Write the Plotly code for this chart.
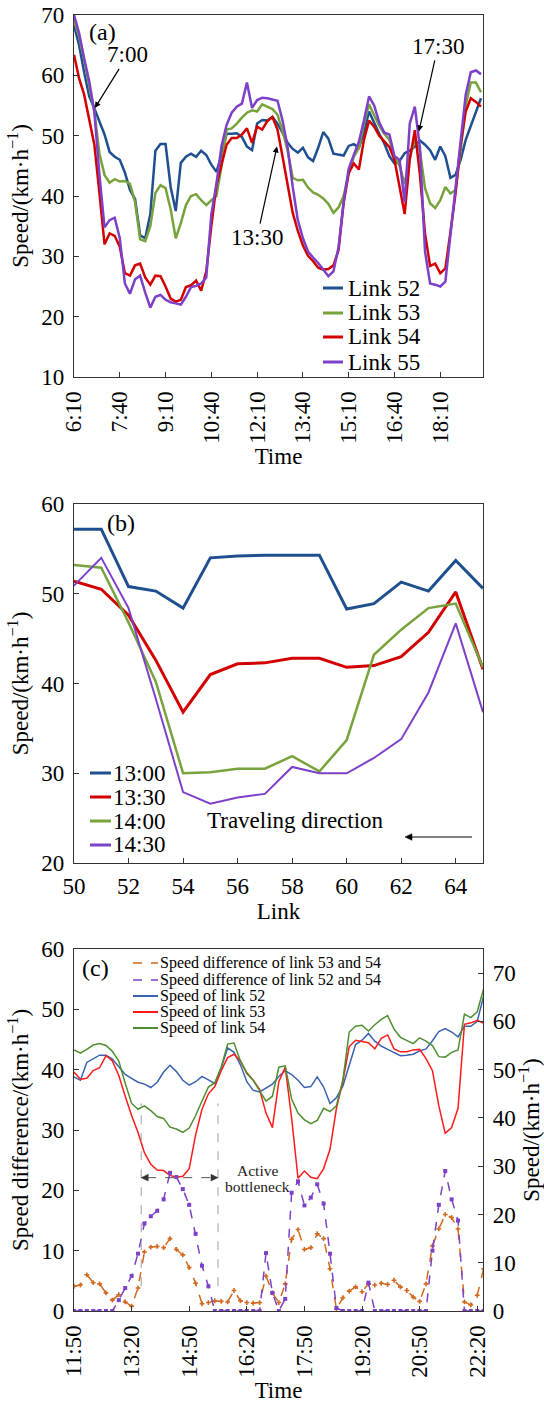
import plotly.graph_objects as go

W, H = 544, 1403
FONT = "Liberation Serif"

# ---------------- Panel (a): link speeds over the day ----------------
time_a = ["06:10","06:20","06:30","06:40","06:50",
          "07:00","07:10","07:20","07:30","07:40","07:50",
          "08:00","08:10","08:20","08:30","08:40","08:50",
          "09:00","09:10","09:20","09:30","09:40","09:50",
          "10:00","10:10","10:20","10:30","10:40","10:50",
          "11:00","11:10","11:20","11:30","11:40","11:50",
          "12:00","12:10","12:20","12:30","12:40","12:50",
          "13:00","13:10","13:20","13:30","13:40","13:50",
          "14:00","14:10","14:20","14:30","14:40","14:50",
          "15:00","15:10","15:20","15:30","15:40","15:50",
          "16:00","16:10","16:20","16:30","16:40","16:50",
          "17:00","17:10","17:20","17:30","17:40","17:50",
          "18:00","18:10","18:20","18:30","18:40","18:50",
          "19:00","19:10","19:20","19:30"]
link52_a = [68.3, 65.0, 60.5, 56.5, 54.5,
            52.5, 50.2, 47.3, 46.5, 46.0, 43.9,
            41.0, 39.5, 33.5, 33.0, 37.0, 47.5,
            48.6, 48.6, 41.5, 37.5, 45.5, 46.5,
            47.0, 46.5, 47.5, 46.8, 45.2, 44.0,
            46.8, 50.3, 50.3, 50.4, 49.8, 48.2,
            47.6, 52.0, 52.6, 52.5, 53.1, 52.0,
            50.5, 48.8, 47.8, 47.2, 48.0, 46.4,
            45.8, 48.0, 50.6, 49.5, 47.0, 46.8,
            46.7, 48.3, 48.6, 48.0, 50.5, 54.0,
            52.0, 50.3, 48.7, 46.6, 45.4, 45.8,
            47.1, 47.5, 48.2, 49.2, 48.5, 47.6,
            46.0, 48.2, 46.6, 43.0, 43.5, 46.0,
            49.3, 51.5, 54.0, 56.2]
link53_a = [69.2, 66.5, 62.5, 58.0, 54.0,
            47.0, 43.5, 42.2, 42.8, 42.4, 42.5,
            42.0, 39.0, 32.8, 32.5, 35.0, 40.5,
            41.8, 41.3, 37.8, 33.0, 35.5, 38.5,
            40.0, 40.3, 39.3, 38.5, 39.3, 40.0,
            45.0, 51.0, 51.2, 52.0, 53.0, 53.8,
            54.2, 54.0, 55.2, 54.8, 54.4, 53.5,
            50.8, 47.5, 43.0, 42.6, 42.7, 41.4,
            40.6, 40.2, 39.6, 38.7, 37.2, 38.1,
            40.0, 43.8, 46.5, 48.0, 52.0, 55.2,
            53.5, 51.6, 50.3, 49.3, 46.5, 45.0,
            42.0, 46.5, 49.2, 47.5, 41.3, 38.8,
            38.0, 39.3, 41.5, 40.4, 41.0, 47.5,
            55.0, 58.8, 58.8, 57.2]
link54_a = [63.4, 59.5, 56.8, 52.8, 48.5,
            40.5, 32.0, 33.8, 33.4, 31.6, 27.2,
            26.8, 28.5, 28.8, 26.5, 25.3, 26.8,
            26.7, 25.0, 23.0, 22.5, 22.8, 24.9,
            25.2, 26.0, 24.3, 27.5, 35.0, 41.8,
            45.2, 48.5, 49.6, 49.6, 50.2, 51.2,
            48.8, 51.5, 51.0, 52.4, 53.1, 51.0,
            46.5, 42.0, 37.2, 34.2, 31.8, 30.1,
            29.2, 28.1, 27.8, 27.9, 28.5, 31.0,
            38.8, 43.8, 45.4, 44.4, 49.3, 52.5,
            51.5, 50.0, 49.0, 48.1, 46.0, 41.5,
            37.0, 46.0, 50.9, 43.5, 33.8, 28.4,
            28.8, 27.2, 28.0, 34.0, 40.4, 48.5,
            54.0, 56.2, 55.6, 54.8]
link55_a = [70.0, 67.0, 62.8, 59.0, 54.0,
            43.5, 34.8, 36.0, 36.4, 33.0, 25.5,
            23.8, 26.2, 26.8, 24.0, 21.5, 23.3,
            23.6, 22.8, 22.4, 22.2, 22.0, 23.3,
            24.9, 25.1, 25.5, 26.5, 37.0, 42.0,
            48.3, 51.8, 53.8, 54.8, 55.3, 58.8,
            54.6, 55.9, 56.3, 56.2, 56.0, 55.8,
            52.5, 48.0, 41.5, 36.0, 33.0, 30.8,
            29.8, 28.9, 27.8, 26.7, 27.5, 31.5,
            39.0, 44.5, 46.8, 49.0, 52.5, 56.5,
            55.0, 52.2, 50.5, 50.2, 46.6, 46.0,
            39.0, 52.0, 54.8, 48.0, 30.8, 25.5,
            25.3, 25.0, 25.8, 33.5, 42.0, 50.0,
            56.8, 60.5, 60.8, 60.2]
names_a = ["Link 52", "Link 53", "Link 54", "Link 55"]
colors_a = ["#1F4F8F", "#78A33C", "#D20000", "#7D40C8"]
# arrow call-outs: label, tip time, tip speed
callouts_a = [("7:00", "06:51", 54.6), ("13:30", "12:49", 48.2), ("17:30", "17:28", 50.7)]

# ---------------- Panel (b): speed profile along links ----------------
links_b = [50, 51, 52, 53, 54, 55, 56, 57, 58, 59, 60, 61, 62, 63, 64, 65]
speed_1300 = [57.2, 57.2, 50.8, 50.3, 48.4, 54.0, 54.2, 54.3, 54.3, 54.3, 48.3, 48.9, 51.3, 50.3, 53.7, 50.6]
speed_1330 = [51.4, 50.5, 47.6, 42.6, 36.8, 41.0, 42.2, 42.3, 42.8, 42.8, 41.8, 42.0, 43.0, 45.7, 50.2, 41.6]
speed_1400 = [53.2, 52.9, 46.8, 40.2, 30.0, 30.1, 30.5, 30.5, 31.9, 30.2, 33.7, 43.2, 46.0, 48.4, 48.9, 41.8]
speed_1430 = [50.9, 54.0, 48.4, 38.3, 27.9, 26.6, 27.3, 27.7, 30.7, 30.0, 30.0, 31.7, 33.8, 39.0, 46.7, 36.8]
names_b = ["13:00", "13:30", "14:00", "14:30"]
colors_b = ["#1F4F8F", "#D20000", "#78A33C", "#7D40C8"]
widths_b = [3.0, 3.0, 2.5, 2.0]

# ---------------- Panel (c): speeds and speed differences ----------------
time_c = ["11:50",
          "12:00","12:10","12:20","12:30","12:40","12:50",
          "13:00","13:10","13:20","13:30","13:40","13:50",
          "14:00","14:10","14:20","14:30","14:40","14:50",
          "15:00","15:10","15:20","15:30","15:40","15:50",
          "16:00","16:10","16:20","16:30","16:40","16:50",
          "17:00","17:10","17:20","17:30","17:40","17:50",
          "18:00","18:10","18:20","18:30","18:40","18:50",
          "19:00","19:10","19:20","19:30","19:40","19:50",
          "20:00","20:10","20:20","20:30","20:40","20:50",
          "21:00","21:10","21:20","21:30","21:40","21:50",
          "22:00","22:10","22:20","22:30"]
speed52_c = [48.5,
             47.8, 51.5, 52.3, 53.0, 53.0, 52.2,
             50.6, 49.0, 48.2, 47.4, 47.0, 46.3,
             47.4, 49.5, 50.9, 49.6, 47.8, 46.8,
             47.5, 48.6, 47.9, 47.1, 50.4, 54.5,
             53.6, 51.0, 47.5, 45.7, 45.4, 46.2,
             47.0, 48.6, 49.8, 49.0, 47.8, 46.3,
             46.5, 48.5, 46.4, 43.0, 44.2, 46.6,
             51.0, 55.2, 56.1, 57.5, 55.9, 54.9,
             54.2, 53.6, 52.9, 53.0, 53.2, 53.9,
             54.3, 56.0, 57.9, 58.5, 57.8, 56.8,
             59.0, 59.0, 60.0, 65.3]
speed53_c = [49.5,
             48.0, 48.2, 49.8, 50.4, 52.9, 51.8,
             48.8, 44.5, 40.5, 37.0, 32.8, 30.4,
             29.2, 29.1, 28.1, 27.7, 27.9, 29.5,
             36.5, 41.8, 45.0, 46.5, 49.8, 52.5,
             53.2, 51.8, 49.2, 47.8, 45.9, 41.0,
             38.0, 47.5, 50.5, 40.0, 27.5, 29.0,
             27.7, 27.4, 29.5, 33.5, 42.0, 47.6,
             54.8, 56.1, 55.8, 55.6, 54.3, 56.5,
             57.2, 54.3, 53.7, 53.7, 54.1, 54.2,
             52.3, 49.8, 42.5, 36.8, 38.0, 42.0,
             59.4, 59.7, 60.2, 59.6]
speed54_c = [54.1,
             53.4, 54.2, 55.1, 55.4, 55.0, 53.8,
             51.8, 47.2, 43.0, 41.8, 42.5, 41.5,
             40.3, 39.9, 38.1, 37.7, 37.0, 37.9,
             40.5, 43.5, 46.4, 47.3, 50.5, 55.3,
             55.5, 51.8, 49.4, 47.8, 45.6, 43.5,
             44.5, 50.5, 50.8, 43.9, 41.0, 39.6,
             38.8, 39.5, 42.0, 41.3, 42.5, 47.8,
             57.8, 59.0, 59.2, 58.0, 59.3, 60.4,
             61.2, 58.4, 56.7, 56.1, 55.4, 56.6,
             55.9, 55.0, 52.7, 52.6, 53.6, 54.1,
             61.5, 60.8, 62.0, 66.8]
diff53_54 = [4.1,
             4.3, 6.0, 4.7, 4.5, 3.0, 1.8,
             2.7, 1.5, 0.8, 3.8, 9.8, 10.6,
             10.7, 10.5, 12.0, 10.2, 9.3, 7.2,
             4.6, 1.2, 1.4, 1.7, 1.6, 1.5,
             3.4, 1.7, 1.4, 1.3, 1.4, 5.8,
             3.0, 1.4, 4.5, 11.9, 13.5, 10.2,
             10.5, 12.8, 12.0, 7.0, 0.3, 2.2,
             3.3, 4.0, 3.2, 4.5, 4.3, 4.6,
             4.4, 5.1, 4.0, 3.4, 2.3, 1.6,
             4.5, 10.8, 13.6, 16.0, 15.5, 13.6,
             1.5, 1.0, 2.6, 7.0]
diff52_54 = [0.0,
             0.0, 0.0, 0.0, 0.0, 0.0, 0.0,
             1.8, 3.8, 5.8, 9.5, 14.5, 15.7,
             16.6, 18.5, 22.9, 22.2, 20.2, 17.6,
             12.8, 7.5, 4.1, 0.0, 0.0, 0.0,
             0.0, 0.0, 0.0, 0.0, 0.0, 9.6,
             3.0, 0.0, 2.0, 19.6, 21.5, 17.5,
             18.8, 21.0, 17.8, 9.5, 0.5, 0.0,
             0.0, 0.0, 0.0, 4.7, 0.0, 0.0,
             0.0, 0.0, 0.0, 0.0, 0.0, 0.0,
             0.0, 10.0, 17.6, 23.2, 18.5, 15.0,
             0.0, 0.0, 0.0, 0.0]
bottleneck_start, bottleneck_end = "13:35", "15:35"

# ---------------- helpers ----------------
def d(t):
    return "2000-01-01 " + t

def minutes(t):
    h, m = t.split(":")
    return int(h) * 60 + int(m)

def PX(x):
    return x / W

def PY(y):
    return 1 - y / H

PLOT_L, PLOT_R = 74, 483
XD = [PX(PLOT_L), PX(PLOT_R)]
YA = [PY(377), PY(15)]
YB = [PY(863), PY(504)]
YC_TOP, YC_BOT = 949, 1311
YC = [PY(YC_BOT), PY(YC_TOP)]
RANGE_C = ("11:50", "22:29")
DIFF_MAX = 60

def c_px(t):  # pixel x of a time on panel (c) axis
    t0, t1 = minutes(RANGE_C[0]), minutes(RANGE_C[1])
    return PLOT_L + (minutes(t) - t0) * (PLOT_R - PLOT_L) / (t1 - t0)

def c_py(v):  # pixel y of a value on the speed-difference axis
    return YC_BOT - v * (YC_BOT - YC_TOP) / DIFF_MAX

tickfont = dict(family=FONT, size=23, color="black")
titlefont = dict(family=FONT, size=23, color="black")
AX = dict(showline=True, mirror=True, linecolor="#333", linewidth=1.2, showgrid=False,
          zeroline=False, ticks="inside", ticklen=5, tickcolor="#333", automargin=False,
          tickfont=tickfont)

fig = go.Figure()

# panel (a)
for name, ys, col in zip(names_a, [link52_a, link53_a, link54_a, link55_a], colors_a):
    fig.add_trace(go.Scatter(x=[d(t) for t in time_a], y=ys, mode="lines", name=name,
                             line=dict(color=col, width=2.5), xaxis="x", yaxis="y",
                             showlegend=False))
# panel (b)
for name, ys, col, w in zip(names_b, [speed_1300, speed_1330, speed_1400, speed_1430], colors_b, widths_b):
    fig.add_trace(go.Scatter(x=links_b, y=ys, mode="lines", name=name,
                             line=dict(color=col, width=w), xaxis="x2", yaxis="y2",
                             showlegend=False))
# panel (c) speeds (right axis, y3) and differences (left axis, y4)
tc = [d(t) for t in time_c]
spec_c = [("Speed of link 52", speed52_c, "#3A62B2"),
          ("Speed of link 53", speed53_c, "#FF1A1A"),
          ("Speed of link 54", speed54_c, "#4F8E2F")]
for name, ys, col in spec_c:
    fig.add_trace(go.Scatter(x=tc, y=ys, mode="lines", name=name,
                             line=dict(color=col, width=1.5), xaxis="x3", yaxis="y3",
                             showlegend=False))
fig.add_trace(go.Scatter(x=tc, y=diff53_54, mode="lines+markers",
                         name="Speed difference of link 53 and 54",
                         line=dict(color="#D2691E", width=1.5, dash="dash"),
                         marker=dict(symbol="cross", size=4, color="#D2691E"),
                         xaxis="x3", yaxis="y4", showlegend=False))
fig.add_trace(go.Scatter(x=tc, y=diff52_54, mode="lines+markers",
                         name="Speed difference of link 52 and 54",
                         line=dict(color="#7D40C8", width=1.5, dash="dash"),
                         marker=dict(symbol="square", size=4, color="#7D40C8"),
                         xaxis="x3", yaxis="y4", showlegend=False))

speed_title = "Speed/(km·h<sup>−1</sup>)"
fig.update_layout(
    width=W, height=H, margin=dict(l=0, r=0, t=0, b=0),
    paper_bgcolor="white", plot_bgcolor="white",
    font=dict(family=FONT, size=23, color="black"),
    showlegend=False,
    xaxis=dict(AX, domain=XD, anchor="y", type="date", range=[d("06:10"), d("19:34")],
               tick0=d("06:10"), dtick=90 * 60000, tickformat="%-H:%M", tickangle=-90,
               ticklabelstandoff=4, title=dict(text="Time", font=titlefont, standoff=4)),
    yaxis=dict(AX, domain=YA, anchor="x", range=[10, 70], dtick=10, ticklabelstandoff=4,
               title=dict(text=speed_title, font=titlefont, standoff=6)),
    xaxis2=dict(AX, domain=XD, anchor="y2", range=[50, 65], tick0=50, dtick=2,
                ticklabelstandoff=2, title=dict(text="Link", font=titlefont, standoff=4)),
    yaxis2=dict(AX, domain=YB, anchor="x2", range=[20, 60], dtick=10, ticklabelstandoff=4,
                title=dict(text=speed_title, font=titlefont, standoff=6)),
    xaxis3=dict(AX, domain=XD, anchor="y3", type="date", range=[d(RANGE_C[0]), d(RANGE_C[1])],
                tick0=d("11:50"), dtick=90 * 60000, tickformat="%-H:%M", tickangle=-90,
                ticklabelstandoff=4, title=dict(text="Time", font=titlefont, standoff=4)),
    yaxis3=dict(AX, domain=YC, anchor="x3", side="right", range=[0, 75], dtick=10,
                ticklabelstandoff=4, title=dict(text=speed_title, font=titlefont, standoff=6)),
    yaxis4=dict(AX, overlaying="y3", anchor="x3", side="left", range=[0, DIFF_MAX], dtick=10,
                ticklabelstandoff=4,
                title=dict(text="Speed difference/(km·h<sup>−1</sup>)", font=titlefont, standoff=6)),
)

ann = []
shapes = []

def arrow(x_tail, y_tail, x_tip, y_tip, color, width, head=7, half=3.3):
    """straight arrow in pixel coordinates, drawn as paper shapes"""
    dx, dy = x_tip - x_tail, y_tip - y_tail
    n = (dx * dx + dy * dy) ** 0.5
    ux, uy = dx / n, dy / n
    bx, by = x_tip - ux * head, y_tip - uy * head
    shapes.append(dict(type="line", xref="paper", yref="paper",
                       x0=PX(x_tail), y0=PY(y_tail), x1=PX(bx), y1=PY(by),
                       line=dict(color=color, width=width)))
    p1 = (bx - uy * half, by + ux * half)
    p2 = (bx + uy * half, by - ux * half)
    path = "M {} {} L {} {} L {} {} Z".format(PX(x_tip), PY(y_tip), PX(p1[0]), PY(p1[1]),
                                               PX(p2[0]), PY(p2[1]))
    shapes.append(dict(type="path", xref="paper", yref="paper", path=path,
                       fillcolor=color, line=dict(color=color, width=0.5)))

# panel labels
for lab, x, y in [("(a)", 102, 32), ("(b)", 121, 523), ("(c)", 95, 968)]:
    ann.append(dict(text=lab, x=PX(x), y=PY(y), xref="paper", yref="paper", showarrow=False,
                    xanchor="center", yanchor="middle", font=dict(family=FONT, size=24)))

# call-out arrows panel (a)
offsets = [(33, -53), (-20, 91), (19, -85)]
for (lab, t, v), (ax, ay) in zip(callouts_a, offsets):
    ann.append(dict(text=lab, x=d(t), y=v, xref="x", yref="y", ax=ax, ay=ay,
                    showarrow=True, arrowhead=2, arrowsize=1, arrowwidth=1.2,
                    arrowcolor="black", font=dict(family=FONT, size=23)))

# manual legends
def legend(entries, ys, x0, x1, xt, size):
    for (name, col, w, dash), y in zip(entries, ys):
        shapes.append(dict(type="line", xref="paper", yref="paper", x0=PX(x0), x1=PX(x1),
                           y0=PY(y), y1=PY(y), line=dict(color=col, width=w, dash=dash)))
        ann.append(dict(text=name, x=PX(xt), y=PY(y), xref="paper", yref="paper",
                        showarrow=False, xanchor="left", yanchor="middle",
                        font=dict(family=FONT, size=size, color="black")))

legend([(n, c, 3, "solid") for n, c in zip(names_a, colors_a)],
       [288, 313, 337, 362], 323, 343, 346, 23)
legend([(n, c, 3, "solid") for n, c in zip(names_b, colors_b)],
       [773, 797, 821, 845], 90, 111, 111, 23)
legend([("Speed difference of link 53 and 54", "#D2691E", 1.5, "dash"),
        ("Speed difference of link 52 and 54", "#7D40C8", 1.5, "dash"),
        ("Speed of link 52", "#3A62B2", 2, "solid"),
        ("Speed of link 53", "#FF1A1A", 2, "solid"),
        ("Speed of link 54", "#4F8E2F", 2, "solid")],
       [963, 980, 996, 1012, 1028], 133, 158, 158, 16)

# traveling direction (panel b)
ann.append(dict(text="Traveling direction", x=PX(386), y=PY(820), xref="paper", yref="paper",
                showarrow=False, font=dict(family=FONT, size=23)))
arrow(472, 837, 405, 837, "black", 1.2)

# active bottleneck (panel c)
xs, xe = c_px(bottleneck_start), c_px(bottleneck_end)
for t in (bottleneck_start, bottleneck_end):
    shapes.append(dict(type="line", xref="x3", yref="y4", x0=d(t), x1=d(t), y0=4.1, y1=34.4,
                       line=dict(color="#A0A0A0", width=1, dash="dash")))
yb = c_py(22.1)
shapes.append(dict(type="line", xref="paper", yref="paper", x0=PX(xs + 6), x1=PX(xe - 6),
                   y0=PY(yb), y1=PY(yb), line=dict(color="#555", width=1, dash="dash")))
mid = (xs + xe) / 2
arrow(mid, yb, xs, yb, "#333", 1)
shapes.pop(-2)
arrow(mid, yb, xe, yb, "#333", 1)
shapes.pop(-2)
ann.append(dict(text="Active", x=PX(257), y=PY(1181), xref="paper", yref="paper",
                showarrow=False, font=dict(family=FONT, size=15.5, color="#222")))
ann.append(dict(text="bottleneck", x=PX(257), y=PY(1197), xref="paper", yref="paper",
                showarrow=False, font=dict(family=FONT, size=15.5, color="#222")))

fig.update_layout(annotations=ann, shapes=shapes)

fig.write_html("out.html", config={"displayModeBar": False},
               post_script="document.body.style.margin='0px';")
